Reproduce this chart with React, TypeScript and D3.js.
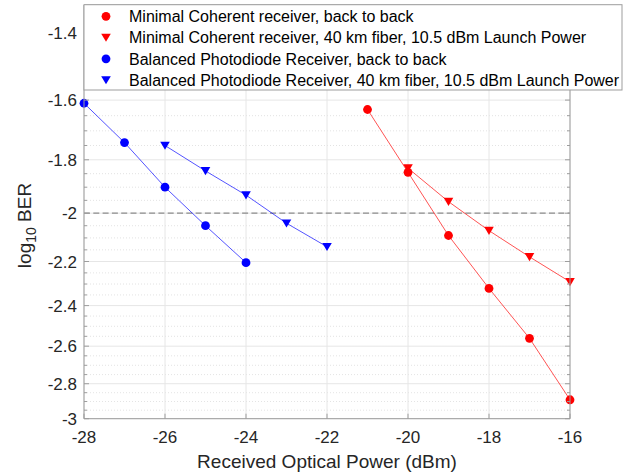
import React from "react";
import * as d3 from "d3";

const W = 634;
const H = 472;

// Data (x: received optical power dBm, y: log10 BER)
const mcB2bX = [-21, -20, -19, -18, -17, -16];
const mcB2bY = [-1.63, -1.845, -2.09, -2.32, -2.56, -2.89];
const mc40X = [-20, -19, -18, -17, -16];
const mc40Y = [-1.83, -1.955, -2.07, -2.18, -2.29];
const bpB2bX = [-28, -27, -26, -25, -24];
const bpB2bY = [-1.61, -1.74, -1.9, -2.05, -2.205];
const bp40X = [-26, -25, -24, -23, -22];
const bp40Y = [-1.75, -1.84, -1.93, -2.04, -2.137];

const xTicks = [-28, -26, -24, -22, -20, -18, -16];
const yTicks = [-1.4, -1.6, -1.8, -2, -2.2, -2.4, -2.6, -2.8, -3];
const yTickLabels = ["-1.4", "-1.6", "-1.8", "-2", "-2.2", "-2.4", "-2.6", "-2.8", "-3"];
const thresholdY = -2;

const legendLabels = [
  "Minimal Coherent receiver, back to back",
  "Minimal Coherent receiver, 40 km fiber, 10.5 dBm Launch Power",
  "Balanced Photodiode Receiver, back to back",
  "Balanced Photodiode Receiver, 40 km fiber, 10.5 dBm Launch Power",
];

const series = [
  { xs: mcB2bX, ys: mcB2bY, color: "#ff0000", marker: "o" },
  { xs: mc40X, ys: mc40Y, color: "#ff0000", marker: "v" },
  { xs: bpB2bX, ys: bpB2bY, color: "#0000ff", marker: "o" },
  { xs: bp40X, ys: bp40Y, color: "#0000ff", marker: "v" },
];

const left = 84;
const right = 570;
const top = 5;
const bottom = 418.7;

const x = d3.scaleLinear().domain([-28, -16]).range([left, right]);
const yLog = d3.scaleLog().domain([1.3263, 3]).range([top, bottom]);
const y = (v: number) => yLog(-v);

const minorTicks = d3
  .range(27, 60)
  .map((k) => -k * 0.05)
  .filter((v) => Math.abs(Math.round(v * 5) - v * 5) > 1e-6 && v >= -2.96);

const FONT = "'Liberation Sans', Arial, Helvetica, sans-serif";
const AX = "#9d9d9d";
const TXT = "#262626";

function Marker({ cx, cy, type, color }: { cx: number; cy: number; type: string; color: string }) {
  if (type === "o") return <circle cx={cx} cy={cy} r={4.4} fill={color} />;
  const s = 4.8;
  const pts = `${cx - s},${cy - s * 0.8} ${cx + s},${cy - s * 0.8} ${cx},${cy + s * 0.9}`;
  return <polygon points={pts} fill={color} />;
}

export default function App() {
  const line = d3
    .line<[number, number]>()
    .x((d) => x(d[0]))
    .y((d) => y(d[1]));

  return (
    <svg width={W} height={H} style={{ position: "absolute", left: 0, top: 0, background: "#fff" }}>
      <rect x={0} y={0} width={W} height={H} fill="#fff" />
      {/* minor grid */}
      {minorTicks.map((v, i) => (
        <line key={"mg" + i} x1={left} x2={right} y1={y(v)} y2={y(v)} stroke="#dcdcdc" strokeWidth={0.8} strokeDasharray="1,2" />
      ))}
      {/* major grid */}
      {yTicks.map((v, i) => (
        <line key={"gy" + i} x1={left} x2={right} y1={y(v)} y2={y(v)} stroke="#e6e6e6" strokeWidth={1} />
      ))}
      {xTicks.map((v, i) => (
        <line key={"gx" + i} x1={x(v)} x2={x(v)} y1={top} y2={bottom} stroke="#e6e6e6" strokeWidth={1} />
      ))}
      {/* threshold dashed */}
      <line x1={left} x2={right} y1={y(thresholdY)} y2={y(thresholdY)} stroke="#8c8c8c" strokeWidth={1.3} strokeDasharray="6,3.3" />
      {/* series */}
      {series.map((s, i) => (
        <g key={"s" + i}>
          <path d={line(s.xs.map((xv, j) => [xv, s.ys[j]]) as [number, number][]) || ""} fill="none" stroke={s.color} strokeOpacity={0.75} strokeWidth={0.9} />
          {s.xs.map((xv, j) => (
            <Marker key={j} cx={x(xv)} cy={y(s.ys[j])} type={s.marker} color={s.color} />
          ))}
        </g>
      ))}
      {/* axes box */}
      <line x1={left} x2={left} y1={top} y2={bottom} stroke={AX} strokeWidth={1} />
      <line x1={right} x2={right} y1={top} y2={bottom} stroke={AX} strokeWidth={1} />
      <line x1={left} x2={right} y1={bottom} y2={bottom} stroke={AX} strokeWidth={1} />
      <line x1={left} x2={right} y1={top} y2={top} stroke={AX} strokeWidth={1} />
      {/* ticks */}
      {yTicks.map((v, i) => (
        <g key={"ty" + i}>
          <line x1={left} x2={left + 5} y1={y(v)} y2={y(v)} stroke={AX} />
          <line x1={right} x2={right - 5} y1={y(v)} y2={y(v)} stroke={AX} />
          <text x={77} y={y(v)} dy="0.36em" textAnchor="end" fontFamily={FONT} fontSize={17} fill={TXT}>
            {yTickLabels[i]}
          </text>
        </g>
      ))}
      {minorTicks.map((v, i) => (
        <g key={"tm" + i}>
          <line x1={left} x2={left + 3} y1={y(v)} y2={y(v)} stroke={AX} />
          <line x1={right} x2={right - 3} y1={y(v)} y2={y(v)} stroke={AX} />
        </g>
      ))}
      {xTicks.map((v, i) => (
        <g key={"tx" + i}>
          <line x1={x(v)} x2={x(v)} y1={bottom} y2={bottom - 5} stroke={AX} />
          <text x={x(v)} y={443} textAnchor="middle" fontFamily={FONT} fontSize={17} fill={TXT}>
            {String(v)}
          </text>
        </g>
      ))}
      {/* axis labels */}
      <text x={(left + right) / 2} y={468} textAnchor="middle" fontFamily={FONT} fontSize={19} fill={TXT}>
        Received Optical Power (dBm)
      </text>
      <text transform={`translate(31,225.5) rotate(-90)`} textAnchor="middle" fontFamily={FONT} fontSize={19} fill={TXT}>
        log<tspan fontSize={14} dy={5}>10</tspan>
        <tspan dy={-5}> BER</tspan>
      </text>
      {/* legend */}
      <rect x={84} y={4.7} width={538} height={85.3} fill="#fff" stroke={AX} strokeWidth={1} />
      {legendLabels.map((lab, i) => {
        const cy = 16.3 + i * 21.25;
        const s = series[i];
        return (
          <g key={"lg" + i}>
            <Marker cx={106} cy={cy} type={s.marker} color={s.color} />
            <text x={129} y={cy} dy="0.36em" fontFamily={FONT} fontSize={16} fill="#000">
              {lab}
            </text>
          </g>
        );
      })}
    </svg>
  );
}
